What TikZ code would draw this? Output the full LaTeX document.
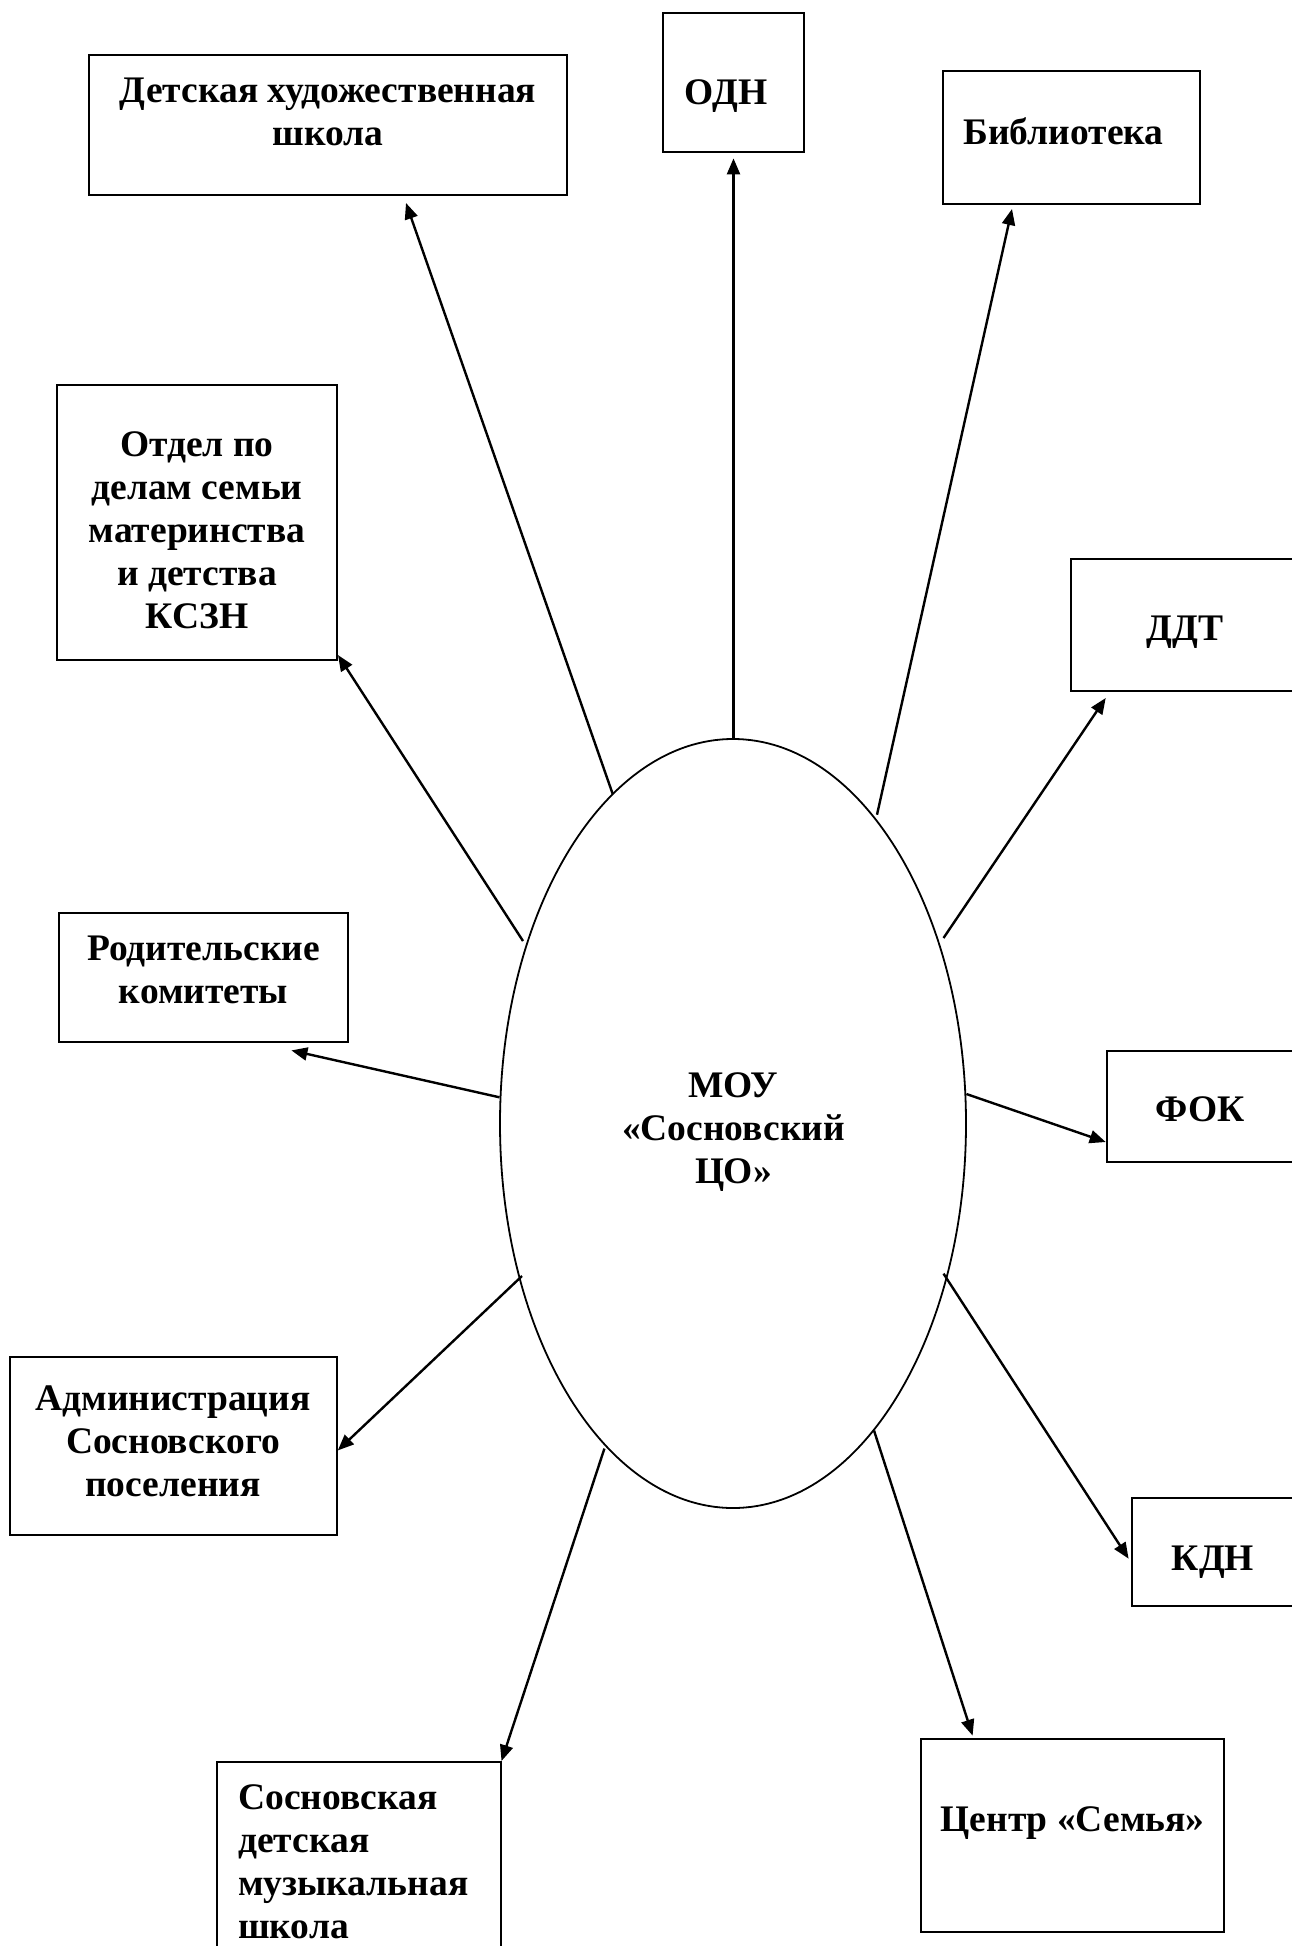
\documentclass[tikz,border=0pt]{standalone}
\usepackage{fontspec}
\setmainfont{Liberation Serif}
\usetikzlibrary{arrows.meta,shapes.geometric,fit}
\tikzset{
  box/.style={draw, line width=2pt, inner sep=0pt},
  lbl/.style={font=\bfseries\fontsize{37.5}{43}\selectfont, align=center, inner sep=0pt},
  conn/.style={line width=2.4pt, -{Triangle[length=16pt,width=13pt]}},
}
\begin{document}
\begin{tikzpicture}[x=1pt,y=-1pt]
\fill[white] (0,0) rectangle (1292,1946);
\useasboundingbox (0,0) rectangle (1292,1946);

% boxes
\node[box, fit={(89,54.5) (567,194.6)}] (b1) {};
\node[box, fit={(663,12.9) (804,152.4)}] (b2) {};
\node[box, fit={(943,71) (1200,204)}] (b3) {};
\node[box, fit={(57,384.8) (337,659.8)}] (b4) {};
\node[box, fit={(1071,559) (1310,691)}] (b5) {};
\node[box, fit={(59,912.5) (348,1041.5)}] (b6) {};
\node[box, fit={(1106.5,1051) (1310,1162)}] (b7) {};
\node[box, fit={(10,1356.5) (337,1535)}] (b8) {};
\node[box, fit={(1132,1498.4) (1310,1605.6)}] (b9) {};
\node[box, fit={(217,1761.6) (501,1975)}] (b10) {};
\node[box, fit={(920.7,1739) (1224,1932)}] (b11) {};

% labels
\node[lbl] (l1) at (328,112) {Детская художественная\\школа};
\node[lbl] (l2) at (726,96.5) {ОДН};
\node[lbl] (l3) at (1063.5,131) {Библиотека};
\node[lbl] (l4) at (197,530) {Отдел по\\делам семьи\\материнства\\и детства\\КСЗН};
\node[lbl] (l5) at (1185,632) {ДДТ};
\node[lbl] (l6) at (203.5,970) {Родительские\\комитеты};
\node[lbl] (l7) at (1200,1109.5) {ФОК};
\node[lbl] (l8) at (173,1441.5) {Администрация\\Сосновского\\поселения};
\node[lbl] (l9) at (1213,1562.7) {КДН};
\node[lbl, align=left, anchor=west] (l10) at (238,1861.5) {Сосновская\\детская\\музыкальная\\школа};
\node[lbl] (l11) at (1072.5,1822.6) {Центр «Семья»};

% ellipse
\node[draw, ellipse, line width=1.8pt, minimum width=466pt, minimum height=769pt, inner sep=0pt] (e) at (733,1123.5) {};
\node[lbl] (mou) at (733.5,1132.5) {МОУ\\«Сосновский\\ЦО»};

% connector end points
\coordinate (s1) at (612.6,793.7);  \coordinate (t1) at (406,203);
\coordinate (s2) at (733.5,739);    \coordinate (t2) at (733.5,158.4);
\coordinate (s3) at (877,814.7);    \coordinate (t3) at (1012,209);
\coordinate (s4) at (523,941);      \coordinate (t4) at (338,655);
\coordinate (s5) at (943.5,938);    \coordinate (t5) at (1105.7,698);
\coordinate (s6) at (499.5,1097.3); \coordinate (t6) at (291.4,1050.4);
\coordinate (s7) at (966.4,1094);   \coordinate (t7) at (1105.7,1142);
\coordinate (s8) at (522,1276);     \coordinate (t8) at (337.8,1450.4);
\coordinate (s9) at (943.5,1273.6); \coordinate (t9) at (1128.6,1558.7);
\coordinate (s10) at (604.4,1448.6);\coordinate (t10) at (501.5,1761);
\coordinate (s11) at (874,1430.5);  \coordinate (t11) at (972.6,1735.6);

\foreach \i in {1,...,11} {
  \draw[conn] (s\i) -- (t\i);
}
\end{tikzpicture}
\end{document}
